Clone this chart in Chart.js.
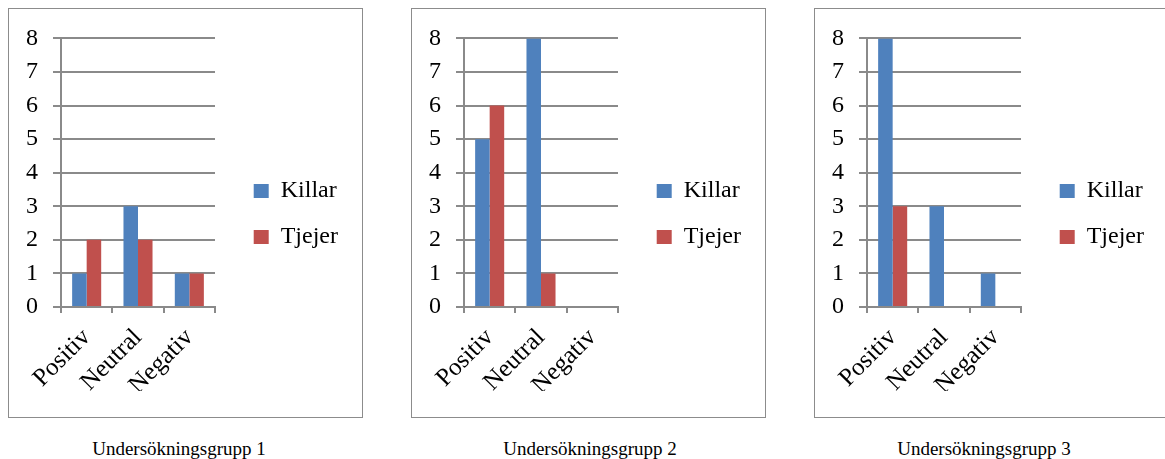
<!DOCTYPE html>
<html>
<head>
<meta charset="utf-8">
<script src="https://cdn.jsdelivr.net/npm/chart.js@4.4.1/dist/chart.umd.min.js"></script>
<style>
  html, body { margin: 0; padding: 0; background: #fff; width: 1165px; height: 459px; overflow: hidden; }
  .box { position: absolute; top: 8px; width: 353px; height: 408px; border: 1px solid #8c8c8c; }
  .box canvas { position: absolute; left: 0; top: 0; }
  .cap { position: absolute; top: 439px; width: 300px; text-align: center; font-family: 'Liberation Serif', 'DejaVu Serif', serif; font-size: 19px; line-height: 20px; color: #000; }
</style>
</head>
<body>
<div class="box" style="left:8px"><canvas id="c1" width="353" height="408"></canvas></div>
<div class="box" style="left:411px"><canvas id="c2" width="353" height="408"></canvas></div>
<div class="box" style="left:814px"><canvas id="c3" width="353" height="408"></canvas></div>
<div class="cap" id="cap1" style="left:29px"></div>
<div class="cap" id="cap2" style="left:440px"></div>
<div class="cap" id="cap3" style="left:834px"></div>
<script>
// ---- data ----
const categories = ['Positiv', 'Neutral', 'Negativ'];
const seriesLabels = ['Killar', 'Tjejer'];
const killar1 = [1, 3, 1];
const tjejer1 = [2, 2, 1];
const killar2 = [5, 8, 0];
const tjejer2 = [6, 1, 0];
const killar3 = [8, 3, 1];
const tjejer3 = [3, 0, 0];
const yMin = 0;
const yMax = 8;
const yStep = 1;
const captions = ['Undersökningsgrupp 1', 'Undersökningsgrupp 2', 'Undersökningsgrupp 3'];

// ---- styles ----
const BLUE = '#4F81BD';
const RED = '#C0504D';
const GRID = '#8a8a8a';
const FONT = "'Liberation Serif', 'DejaVu Serif', serif";

function makeChart(id, killar, tjejer) {
  return new Chart(document.getElementById(id), {
    type: 'bar',
    data: {
      labels: categories,
      datasets: [
        { label: seriesLabels[0], data: killar, backgroundColor: BLUE, yAxisID: 'y',
          categoryPercentage: 0.566, barPercentage: 1.0 },
        { label: seriesLabels[1], data: tjejer, backgroundColor: RED, yAxisID: 'y',
          categoryPercentage: 0.566, barPercentage: 1.0 }
      ]
    },
    options: {
      responsive: false,
      animation: false,
      layout: { padding: { top: 28, right: 14, bottom: 26, left: 0 } },
      plugins: {
        tooltip: { enabled: false },
        legend: {
          position: 'right',
          maxWidth: 200,
          labels: {
            boxWidth: 15,
            boxHeight: 14,
            padding: 22,
            color: '#000',
            font: { family: FONT, size: 24 }
          }
        }
      },
      scales: {
        x: {
          grid: { drawOnChartArea: false, drawTicks: true, tickLength: 6, color: GRID, lineWidth: 2, offset: true },
          border: { display: true, color: GRID, width: 2 },
          ticks: { minRotation: 45, maxRotation: 45, padding: 10, color: '#000', font: { family: FONT, size: 25 } },
          afterFit(scale) { scale.height = 84; }
        },
        y: {
          min: yMin,
          max: yMax,
          ticks: { stepSize: yStep, padding: 15, color: '#000', font: { family: FONT, size: 24 } },
          grid: { color: GRID, lineWidth: 2, tickLength: 8, drawTicks: true },
          border: { display: true, color: GRID, width: 2 },
          afterFit(scale) { scale.width = 52; }
        },
        pad: {
          type: 'linear',
          position: 'right',
          display: true,
          grid: { display: false },
          border: { display: false },
          ticks: { display: false },
          afterFit(scale) {
            const lw = scale.chart.legend ? scale.chart.legend.width : 116;
            scale.width = Math.max(0, 133 - lw);
          }
        }
      }
    }
  });
}

makeChart('c1', killar1, tjejer1);
makeChart('c2', killar2, tjejer2);
makeChart('c3', killar3, tjejer3);
document.getElementById('cap1').textContent = captions[0];
document.getElementById('cap2').textContent = captions[1];
document.getElementById('cap3').textContent = captions[2];
</script>
</body>
</html>
